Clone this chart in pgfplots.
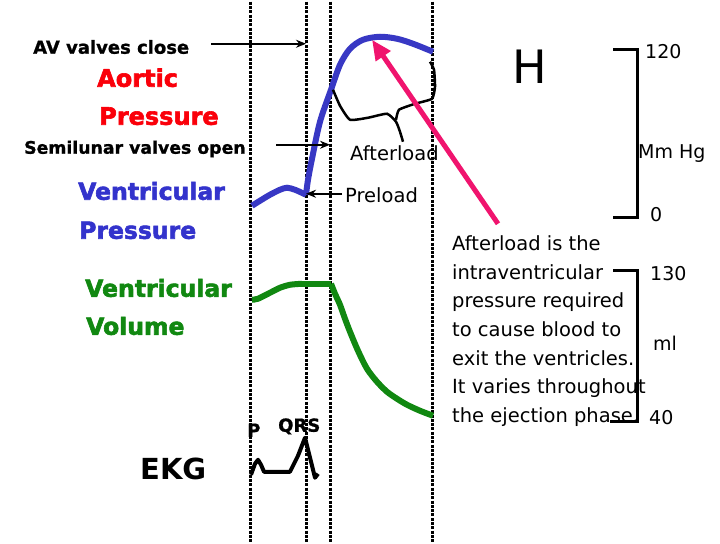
\documentclass[border=0pt]{standalone}
\usepackage{pgfplots}
\pgfplotsset{compat=1.18}
\usepackage{fontspec}
\setmainfont{DejaVu Sans}
\newfontfamily\heavy[FakeBold=2.5]{DejaVu Sans Bold}
\newfontfamily\semi[FakeBold=1]{DejaVu Sans Bold}
\usetikzlibrary{arrows.meta}
\definecolor{vblue}{RGB}{56,56,196}
\definecolor{tblue}{RGB}{51,51,204}
\definecolor{vgreen}{RGB}{17,136,17}
\definecolor{tred}{RGB}{250,0,10}
\definecolor{pinkc}{RGB}{240,20,110}
\newcommand{\fs}[1]{\fontsize{#1bp}{#1bp}\selectfont}
\begin{document}
\begin{tikzpicture}
\begin{axis}[
  scale only axis, width=720bp, height=540bp,
  xmin=0, xmax=720, ymin=0, ymax=540, y dir=reverse,
  hide axis, clip=false]
\path (axis cs:0,0) rectangle (axis cs:720,540);
% dotted verticals
\addplot[black, line width=3.5bp, dash pattern=on 3bp off 1.3bp] coordinates {(250.5,0) (250.5,540)};
\addplot[black, line width=3.5bp, dash pattern=on 3bp off 1.3bp] coordinates {(306.5,0) (306.5,540)};
\addplot[black, line width=3.5bp, dash pattern=on 3bp off 1.3bp] coordinates {(330.5,0) (330.5,540)};
\addplot[black, line width=3.5bp, dash pattern=on 3bp off 1.3bp] coordinates {(432.5,0) (432.5,540)};
% ventricular pressure
\addplot[vblue, line width=6bp, smooth, tension=0.5] coordinates {
 (252,204) (260,199) (270,193) (280,188) (287,186) (295,188) (306,193)};
\addplot[vblue, line width=6bp, smooth, tension=0.5] coordinates {
 (306,193) (308,178) (312,157) (320,120) (331,88) (340,63) (350,47) (363,38) (380,35) (397,37) (413,42) (433,50)};
% ventricular volume
\addplot[vgreen, line width=6bp, smooth, tension=0.4] coordinates {
 (252,298) (258,297) (270,291) (280,286) (290,283) (302,282)};
\addplot[vgreen, line width=6bp] coordinates {(300,282) (331,282)};
\addplot[vgreen, line width=6bp, smooth, tension=0.5] coordinates {
 (331,282) (335,292) (340,303) (345,317) (350,330) (358,349) (367,367) (377,380) (387,390) (397,397) (407,403) (420,409) (433,414)};
% EKG
\addplot[black, line width=4bp, line join=round] coordinates {
 (251,473) (255,462) (258,458) (261,463) (264,470) (290,470) (298,454) (305,436) (310,456) (315,476) (318,472)};
% brace
\addplot[black, line width=2.5bp, smooth, tension=0.3] coordinates {
 (333,88) (340,104) (350,118) (368,116) (387,112) (396,120) (400,130) (403,140)};
\addplot[black, line width=2.5bp, smooth, tension=0.3] coordinates {
 (396,118) (399,108) (415,102) (432,97) (435,85) (434,68) (430,60)};
% arrows
\addplot[black, line width=2bp, -{Stealth[length=10bp,width=8bp]}] coordinates {(211,42) (306,42)};
\addplot[black, line width=2bp, -{Stealth[length=10bp,width=8bp]}] coordinates {(276,143) (330,143)};
\addplot[black, line width=2bp, -{Stealth[length=10bp,width=8bp]}] coordinates {(342,192) (306,192)};
\addplot[pinkc, line width=5bp, -{Triangle[length=20bp,width=17bp]}] coordinates {(498,222) (372,38)};
% brackets
\addplot[black, line width=3bp] coordinates {(613,48) (637,48) (637,216) (613,216)};
\addplot[black, line width=3bp] coordinates {(613,269) (637,269) (637,420) (610,420)};
% labels
\node[anchor=base west, inner sep=0] at (axis cs:33,52) {\fs{18}\semi AV valves close};
\node[anchor=base west, inner sep=0, text=tred] at (axis cs:97,85) {\fs{24}\heavy Aortic};
\node[anchor=base west, inner sep=0, text=tred] at (axis cs:99,123) {\fs{24}\heavy Pressure};
\node[anchor=base west, inner sep=0] at (axis cs:24,152) {\fs{17.3}\semi Semilunar valves open};
\node[anchor=base west, inner sep=0, text=tblue] at (axis cs:78,198) {\fs{23.5}\heavy Ventricular};
\node[anchor=base west, inner sep=0, text=tblue] at (axis cs:79,237) {\fs{23.5}\heavy Pressure};
\node[anchor=base west, inner sep=0, text=vgreen] at (axis cs:85,295) {\fs{23.5}\heavy Ventricular};
\node[anchor=base west, inner sep=0, text=vgreen] at (axis cs:86,333) {\fs{23.5}\heavy Volume};
\node[anchor=base west, inner sep=0] at (axis cs:140,478) {\fs{29}\bfseries EKG};
\node[anchor=base west, inner sep=0] at (axis cs:247,435) {\fs{18}\semi P};
\node[anchor=base west, inner sep=0] at (axis cs:278,430) {\fs{18}\semi QRS};
\node[anchor=base west, inner sep=0] at (axis cs:350,159) {\fs{19.5}Afterload};
\node[anchor=base west, inner sep=0] at (axis cs:345,201) {\fs{19.5}Preload};
\node[anchor=base west, inner sep=0] at (axis cs:512,82) {\fs{46}H};
\node[anchor=base west, inner sep=0] at (axis cs:645,57) {\fs{19}120};
\node[anchor=base west, inner sep=0] at (axis cs:638,157) {\fs{19}Mm Hg};
\node[anchor=base west, inner sep=0] at (axis cs:650,220) {\fs{19}0};
\node[anchor=base west, inner sep=0] at (axis cs:650,279) {\fs{19}130};
\node[anchor=base west, inner sep=0] at (axis cs:653,349) {\fs{19}ml};
\node[anchor=base west, inner sep=0] at (axis cs:649,423) {\fs{19}40};
\node[anchor=base west, inner sep=0] at (axis cs:452,249) {\fs{19.5}Afterload is the};
\node[anchor=base west, inner sep=0] at (axis cs:452,278) {\fs{19.5}intraventricular};
\node[anchor=base west, inner sep=0] at (axis cs:452,306) {\fs{19.5}pressure required};
\node[anchor=base west, inner sep=0] at (axis cs:452,335) {\fs{19.5}to cause blood to};
\node[anchor=base west, inner sep=0] at (axis cs:452,364) {\fs{19.5}exit the ventricles.};
\node[anchor=base west, inner sep=0] at (axis cs:452,392) {\fs{19.5}It varies throughout};
\node[anchor=base west, inner sep=0] at (axis cs:452,421) {\fs{19.5}the ejection phase.};
\end{axis}
\end{tikzpicture}
\end{document}
